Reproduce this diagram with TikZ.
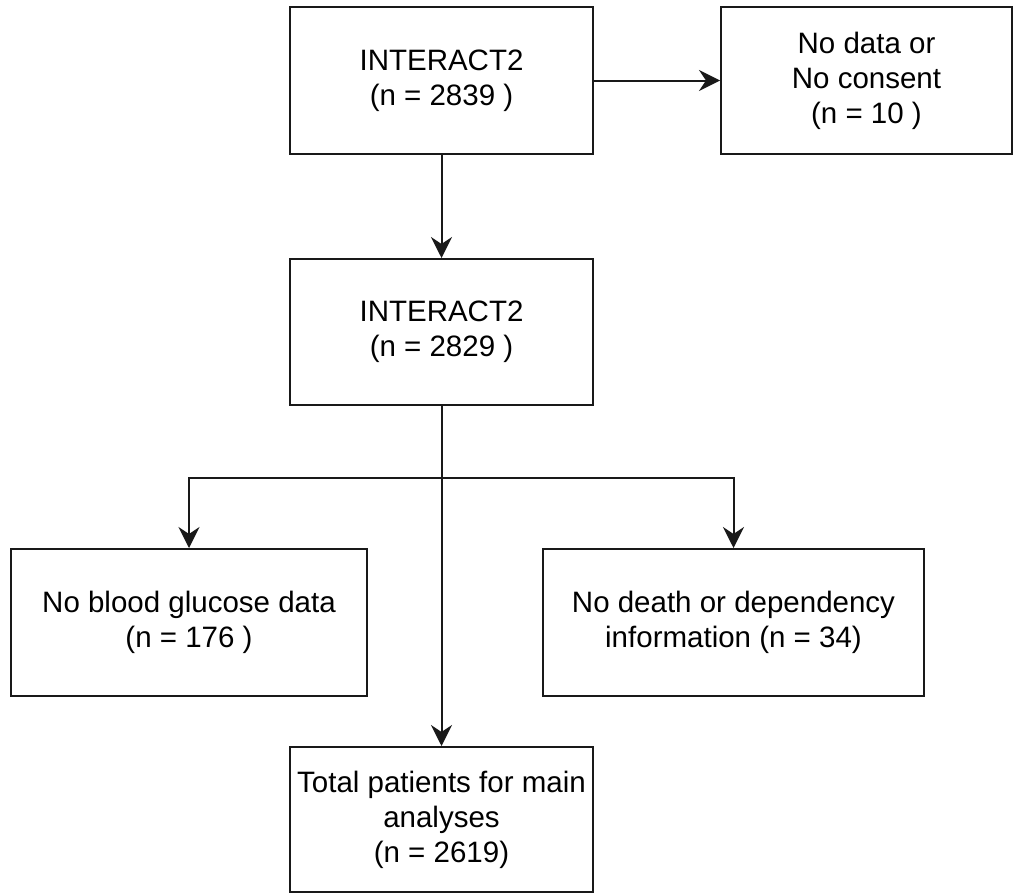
\documentclass[tikz,border=0pt]{standalone}
\usepackage{fontspec}
\setmainfont{Liberation Sans}
\usetikzlibrary{arrows.meta,calc}

\begin{document}
\begin{tikzpicture}[x=1pt,y=-1pt,
  box/.style={draw=black!90,line width=2pt,fill=white,align=center,inner sep=0pt,
    font=\fontsize{29.5}{35}\selectfont},
  arr/.style={line width=2pt,draw=black!90,-{Stealth[length=21pt,width=21pt,inset=7pt]}}]
				  %FRAME
				  \useasboundingbox (0,0) rectangle (1015,894);
				  %BOXES
				  \node[box,minimum width=303pt,minimum height=147pt] (first) at (441.5,80.5) {INTERACT2\\(n = 2839 )};
				  \node[box,minimum width=291pt,minimum height=147pt] (excl) at (866.5,80.5) {No data or\\No consent\\(n = 10 )};
				  \node[box,minimum width=303pt,minimum height=146pt] (second) at (441.5,332) {INTERACT2\\(n = 2829 )};
				  \node[box,minimum width=356pt,minimum height=147pt] (noglu) at (189,622.5) {No blood glucose data\\(n = 176 )};
				  \node[box,minimum width=381pt,minimum height=147pt] (nodep) at (733.5,622.5) {No death or dependency\\information (n = 34)};
				  \node[box,minimum width=303pt,minimum height=145pt] (total) at (441.5,819.5) {Total patients for main\\analyses\\(n = 2619)};
				  %ARROWS
				  \draw[arr] (first) -- (excl);
				  \draw[arr] (first) -- (second);
				  %SPLIT
				  \coordinate (split) at (441.5,478);
				  \draw[arr,-] (second) -- (split);
				  \draw[arr] (split) -| (noglu);
				  \draw[arr] (split) -| (nodep);
				  \draw[arr] (split) -- (total);
\end{tikzpicture}
\end{document}
